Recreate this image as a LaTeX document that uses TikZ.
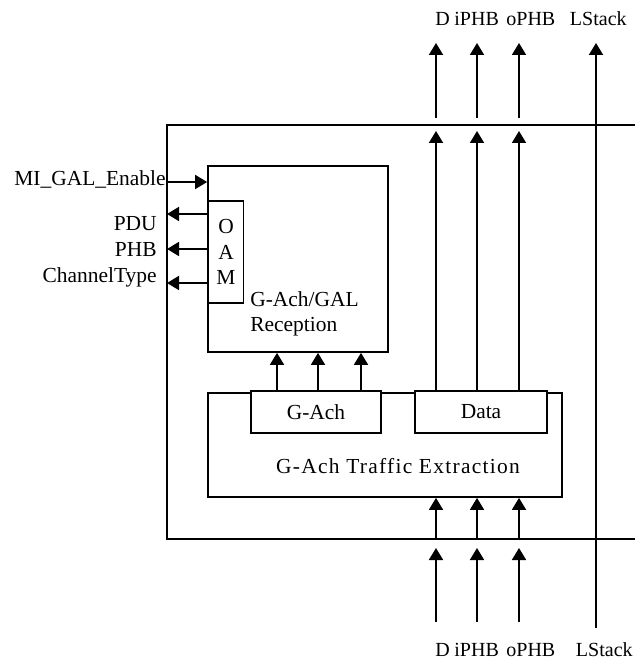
\documentclass[tikz,border=0pt]{standalone}
\usepackage{fontspec}
\setmainfont{Liberation Serif}
\usetikzlibrary{arrows.meta}

\begin{document}
\begin{tikzpicture}[
    x=0.2mm, y=-0.2mm,
    wire/.style={line width=0.35mm},
    sig/.style={line width=0.35mm, -{Triangle[length=2.4mm, width=2.8mm]}},
    blk/.style={draw, line width=0.35mm, inner sep=0pt, font=\fontsize{12.2}{14.6}\selectfont},
    txt/.style={font=\fontsize{12.2}{14.6}\selectfont, inner sep=0pt},
    port/.style={font=\fontsize{11.4}{13.6}\selectfont, inner sep=0pt},
]
\useasboundingbox (0,0) rectangle (635,661);

% Outer frame (open to the right)
\draw[wire] (635,125) -- (167,125) -- (167,539) -- (635,539);

% Blocks
\node[blk, minimum width=36mm, minimum height=37.2mm] (recv) at (298,259) {};
\node[blk, minimum width=7mm, minimum height=20.4mm] (oam) at (226,252) {};
\node[txt, align=center] (oamtxt) at (oam) {O\\A\\M};
\node[txt, align=left, anchor=west] (recvtxt) at (250,314) {G-Ach/GAL\\Reception};

\node[blk, minimum width=70.8mm, minimum height=20.8mm] (extr) at (385,445) {};
\node[blk, fill=white, minimum width=26mm, minimum height=8.4mm] (gach) at (316,412) {G-Ach};
\node[blk, fill=white, minimum width=26.4mm, minimum height=8.4mm] (data) at (481,412) {Data};
\node[txt, font=\fontsize{12.2}{14.6}\selectfont\addfontfeature{LetterSpace=6}] (extrtxt) at (398,466) {G-Ach Traffic Extraction};

% Management signals
\coordinate (enin) at (167,182);
\draw[sig] (enin) -- (recv.west |- enin);
\node[txt, anchor=base east] (enable) at (166,186) {MI\_GAL\_Enable};

\foreach \n/\y in {pdu/214, phb/249, cht/283} {
    \coordinate (\n out) at (167,\y);
    \draw[sig] (oam.west |- \n out) -- (\n out);
}
\node[txt, anchor=base east] (pdu) at (157,231) {PDU};
\node[txt, anchor=base east] (phb) at (157,257) {PHB};
\node[txt, anchor=base east] (cht) at (157,282) {ChannelType};

% G-Ach to reception
\foreach \n/\x in {a/277, b/318, c/361} {
    \coordinate (ga\n) at (\x,391);
    \draw[sig] (ga\n) -- (recv.south -| ga\n);
}

% Data path
\foreach \n/\x in {d/436, i/477, o/519} {
    \coordinate (top\n) at (\x,131);
    \coordinate (up\n) at (\x,118);
    \coordinate (tip\n) at (\x,43);
    \coordinate (bot\n) at (\x,539);
    \coordinate (low\n) at (\x,622);
    \coordinate (in\n) at (\x,548);
    \draw[sig] (data.north -| top\n) -- (top\n);
    \draw[sig] (up\n) -- (tip\n);
    \draw[sig] (bot\n) -- (extr.south -| bot\n);
    \draw[sig] (low\n) -- (in\n);
}

% Label stack
\coordinate (lsend) at (596,628);
\coordinate (lstip) at (596,43);
\draw[sig] (lsend) -- (lstip);

% Port labels
\node[port, anchor=base west] (dtop) at (435,26) {D};
\node[port, anchor=base west] (itop) at (454,26) {iPHB};
\node[port, anchor=base west] (otop) at (506,26) {oPHB};
\node[port, anchor=base east] (lstop) at (627,26) {LStack};
\node[port, anchor=base west] (dbot) at (435,656) {D};
\node[port, anchor=base west] (ibot) at (454,656) {iPHB};
\node[port, anchor=base west] (obot) at (506,656) {oPHB};
\node[port, anchor=base east] (lsbot) at (633,656) {LStack};

\end{tikzpicture}
\end{document}
